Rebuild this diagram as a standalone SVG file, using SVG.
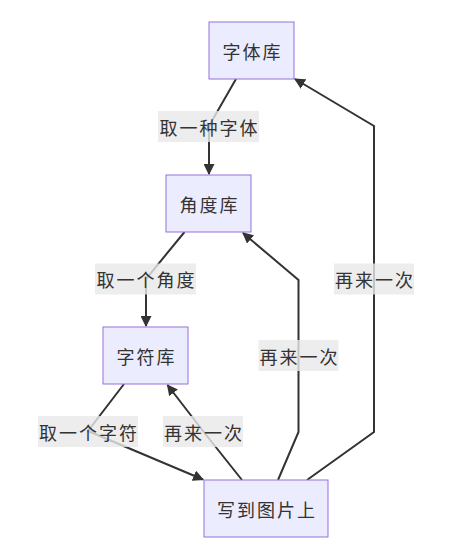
<svg xmlns="http://www.w3.org/2000/svg" width="453" height="553" viewBox="0 0 453 553">
<style>
.node rect{fill:#ECECFF;stroke:#9370DB;stroke-width:1}
text{font-family:"Noto Sans CJK SC","Noto Sans",sans-serif;font-size:18px;fill:#333;text-anchor:middle;dominant-baseline:central;letter-spacing:2px}
.edge{fill:none;stroke:#333;stroke-width:2}
.lbl rect{fill:rgba(232,232,232,0.8)}
</style>
<defs>
<marker id="arrow" viewBox="0 0 10 10" refX="9" refY="5" markerWidth="11" markerHeight="11" markerUnits="userSpaceOnUse" orient="auto">
<path d="M0,0 L10,5 L0,10 z" fill="#333"/>
</marker>
</defs>
<g id="edges">
<path class="edge" d="M236,79 L209,126 L209,174" marker-end="url(#arrow)"/>
<path class="edge" d="M184.5,232 L146,279 L146,326" marker-end="url(#arrow)"/>
<path class="edge" d="M124,384 L88,431 L203,479.5" marker-end="url(#arrow)"/>
<path class="edge" d="M242,480 L203,431 L167.5,385" marker-end="url(#arrow)"/>
<path class="edge" d="M278,480 L298.5,432 L298.5,280 L243,233" marker-end="url(#arrow)"/>
<path class="edge" d="M307,480 L374,432 L374,126 L295,79" marker-end="url(#arrow)"/>
</g>
<g id="edge-labels">
<g class="lbl"><rect x="158" y="111" width="101" height="31"/><text x="209.5" y="126.5">取一种字体</text></g>
<g class="lbl"><rect x="95" y="263.5" width="101" height="31"/><text x="146.5" y="279">取一个角度</text></g>
<g class="lbl"><rect x="38" y="416" width="100" height="31"/><text x="89" y="431.5">取一个字符</text></g>
<g class="lbl"><rect x="163" y="416" width="80" height="31"/><text x="204" y="431.5">再来一次</text></g>
<g class="lbl"><rect x="258.5" y="340" width="80" height="31"/><text x="299.5" y="355.5">再来一次</text></g>
<g class="lbl"><rect x="334" y="263.5" width="80" height="31"/><text x="375" y="279">再来一次</text></g>
</g>
<g id="n-ziti" class="node"><rect x="209" y="22" width="85" height="57"/><text x="252.5" y="50.5">字体库</text></g>
<g id="n-jiaodu" class="node"><rect x="166" y="175" width="85" height="57"/><text x="209.5" y="203.5">角度库</text></g>
<g id="n-zifu" class="node"><rect x="103" y="327" width="85" height="57"/><text x="146.5" y="355.5">字符库</text></g>
<g id="n-xie" class="node"><rect x="204" y="480" width="124" height="57"/><text x="267" y="508.5">写到图片上</text></g>
</svg>
